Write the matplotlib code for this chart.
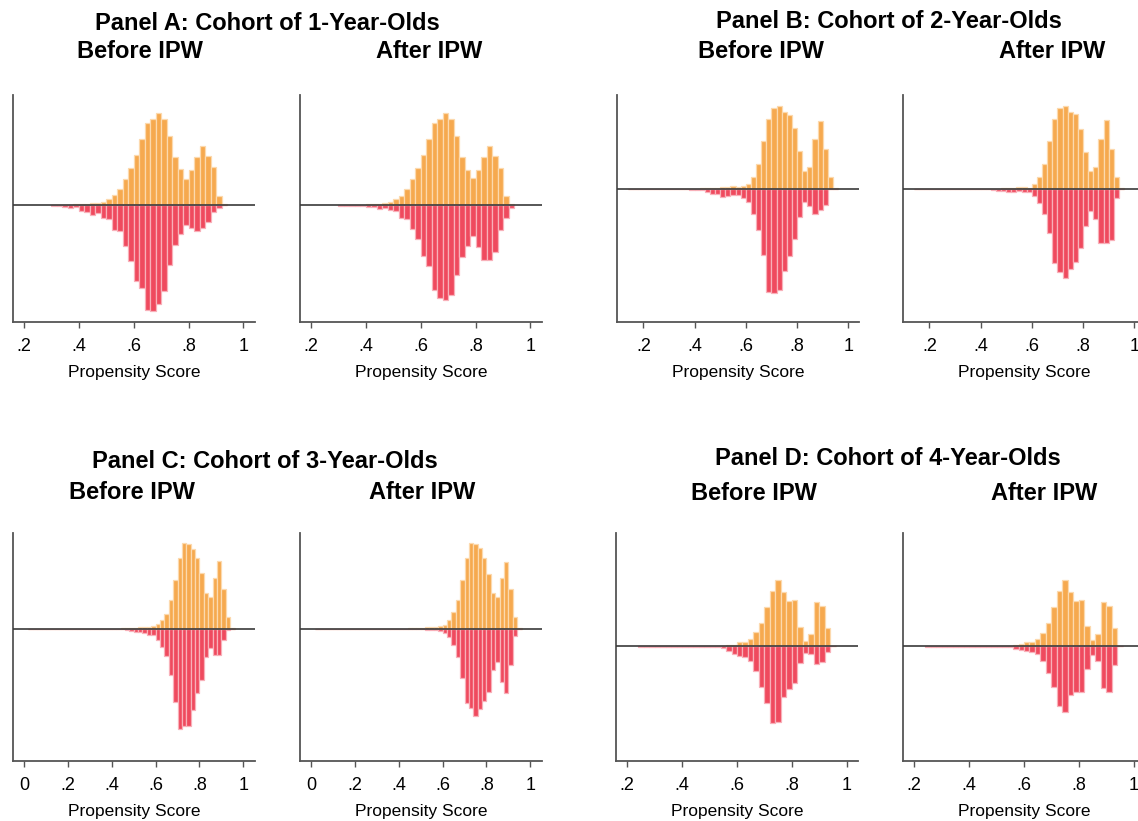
import numpy as np
import matplotlib
matplotlib.use("Agg")
import matplotlib.pyplot as plt

plt.rcParams['font.family'] = ['Liberation Sans', 'DejaVu Sans']

# ---------------- data (bin width 0.02, bar heights in relative density units) -------------
BIN_WIDTH = 0.02

# Panel A: cohort of 1-year-olds  (first bin centre 0.31)
A_START = 0.31
A_BEFORE_TREATED = [1, 1, 2, 2, 3, 4, 4, 6, 7, 11, 19, 30, 50, 78, 112, 150, 199, 246, 260, 276,
                    258, 208, 144, 108, 80, 106, 146, 178, 148, 114, 29, 5]
A_BEFORE_CONTROL = [1, 2, 6, 9, 5, 16, 18, 27, 22, 36, 41, 74, 76, 121, 165, 227, 246, 314, 316, 295,
                    256, 179, 119, 86, 57, 67, 77, 66, 49, 19, 9, 0]
A_AFTER_TREATED = [1, 1, 1, 1, 1, 3, 3, 5, 7, 11, 18, 29, 49, 78, 111, 150, 199, 246, 259, 276,
                   258, 208, 145, 107, 82, 105, 145, 178, 148, 113, 29, 5]
A_AFTER_CONTROL = [1, 1, 2, 1, 2, 5, 5, 10, 7, 14, 17, 37, 41, 71, 101, 151, 180, 253, 276, 282,
                   269, 207, 153, 122, 91, 123, 164, 162, 138, 73, 37, 7]

# Panel B: cohort of 2-year-olds  (first bin centre 0.15)
B_START = 0.15
B_BEFORE_TREATED = [1, 1, 0, 0, 0, 0, 0, 0, 0, 0, 1, 1, 1, 1, 2, 3, 3, 4, 5, 6, 9, 7, 10, 16, 36, 75,
                    143, 210, 243, 250, 232, 223, 182, 113, 54, 67, 151, 205, 121, 36, 2]
B_BEFORE_CONTROL = [1, 0, 0, 0, 0, 0, 0, 0, 0, 0, 1, 1, 2, 4, 4, 10, 15, 16, 23, 20, 18, 18, 28, 38, 75, 123,
                    196, 308, 311, 303, 245, 200, 148, 83, 40, 50, 73, 61, 49, 0, 0]
B_AFTER_TREATED = [1, 1, 0, 0, 0, 0, 0, 0, 0, 0, 1, 1, 1, 1, 1, 1, 1, 2, 3, 4, 6, 7, 4, 14, 36, 75,
                   143, 210, 242, 250, 232, 224, 181, 112, 54, 66, 151, 206, 121, 36, 2]
B_AFTER_CONTROL = [1, 0, 0, 0, 0, 0, 0, 0, 0, 0, 1, 1, 1, 1, 1, 3, 6, 6, 8, 8, 6, 8, 9, 20, 43, 73,
                   130, 222, 247, 265, 238, 218, 176, 111, 64, 89, 160, 160, 153, 26, 0]

# Panel C: cohort of 3-year-olds  (first bin centre 0.03)
C_START = 0.03
C_BEFORE_TREATED = [0, 0] + [0] * 19 + [2, 2, 2, 3, 5, 5, 6, 9, 13, 26, 45, 86, 144, 211, 256, 254, 239,
                                        211, 165, 108, 96, 151, 201, 119, 35, 3]
C_BEFORE_CONTROL = [1, 1] + [0] * 19 + [0, 3, 7, 11, 11, 14, 18, 19, 34, 54, 83, 140, 220, 299, 292, 291,
                                        242, 192, 154, 84, 58, 79, 80, 35, 5, 0]
C_AFTER_TREATED = [0, 0] + [0] * 19 + [2, 2, 3, 3, 4, 5, 6, 9, 12, 25, 49, 86, 144, 210, 256, 254, 240,
                                       211, 164, 108, 96, 151, 200, 118, 35, 3]
C_AFTER_CONTROL = [1, 1] + [0] * 19 + [1, 1, 1, 2, 3, 4, 5, 6, 14, 26, 48, 84, 147, 222, 236, 261, 240,
                                       217, 191, 124, 99, 159, 194, 110, 21, 0]

# Panel D: cohort of 4-year-olds  (first bin centre 0.25)
D_START = 0.25
D_BEFORE_TREATED = [2, 1, 2, 1, 2, 1, 1, 2, 1, 1, 2, 1, 1, 1, 1, 2, 3, 5, 12, 13, 22, 42, 70, 119, 166,
                    197, 162, 136, 138, 59, 17, 36, 133, 121, 55, 2]
D_BEFORE_CONTROL = [1, 2, 1, 2, 1, 2, 1, 1, 2, 1, 1, 2, 1, 1, 2, 6, 15, 23, 28, 32, 43, 73, 123, 171, 228,
                    225, 152, 127, 111, 49, 19, 23, 53, 47, 16, 0]
D_AFTER_TREATED = [2, 1, 2, 1, 2, 1, 1, 2, 1, 1, 2, 1, 1, 1, 1, 2, 3, 6, 12, 13, 23, 40, 71, 119, 166,
                   198, 162, 135, 138, 60, 18, 37, 133, 122, 56, 2]
D_AFTER_CONTROL = [1, 2, 1, 2, 1, 2, 1, 1, 2, 1, 1, 2, 1, 1, 1, 2, 7, 10, 13, 17, 23, 43, 79, 121, 178,
                   195, 145, 138, 136, 67, 27, 43, 124, 137, 56, 0]

PANEL_TITLES = ["Panel A: Cohort of 1-Year-Olds", "Panel B: Cohort of 2-Year-Olds",
                "Panel C: Cohort of 3-Year-Olds", "Panel D: Cohort of 4-Year-Olds"]
SUB_TITLES = ["Before IPW", "After IPW"]
X_LABEL = "Propensity Score"
TICKS_AB_D = [0.2, 0.4, 0.6, 0.8, 1.0]
TICKLABELS_AB_D = [".2", ".4", ".6", ".8", "1"]
TICKS_C = [0.0, 0.2, 0.4, 0.6, 0.8, 1.0]
TICKLABELS_C = ["0", ".2", ".4", ".6", ".8", "1"]

# ---------------- styling ----------------
ORANGE = "#F6A94F"
ORANGE_EDGE = "#FCD9AE"
RED = "#EF4A5E"
RED_EDGE = "#F8B0B9"
SPINE = "#555555"

W, H = 1138, 821
fig = plt.figure(figsize=(W / 100, H / 100), dpi=100)


def px_axes(left, top, right, bottom):
    return fig.add_axes([left / W, 1 - bottom / H, (right - left) / W, (bottom - top) / H])


panels = [
    dict(start=A_START, data=[(A_BEFORE_TREATED, A_BEFORE_CONTROL), (A_AFTER_TREATED, A_AFTER_CONTROL)],
         xlim=(0.16, 1.042), ylim=(-349, 331), ticks=TICKS_AB_D, labels=TICKLABELS_AB_D,
         lefts=[13, 300], top=95, bottom=322),
    dict(start=B_START, data=[(B_BEFORE_TREATED, B_BEFORE_CONTROL), (B_AFTER_TREATED, B_AFTER_CONTROL)],
         xlim=(0.097, 1.042), ylim=(-398, 282), ticks=TICKS_AB_D, labels=TICKLABELS_AB_D,
         lefts=[617, 903], top=95, bottom=322),
    dict(start=C_START, data=[(C_BEFORE_TREATED, C_BEFORE_CONTROL), (C_AFTER_TREATED, C_AFTER_CONTROL)],
         xlim=(-0.05, 1.053), ylim=(-396, 286), ticks=TICKS_C, labels=TICKLABELS_C,
         lefts=[13, 300], top=533, bottom=761),
    dict(start=D_START, data=[(D_BEFORE_TREATED, D_BEFORE_CONTROL), (D_AFTER_TREATED, D_AFTER_CONTROL)],
         xlim=(0.159, 1.041), ylim=(-343, 339), ticks=TICKS_AB_D, labels=TICKLABELS_AB_D,
         lefts=[616, 903], top=533, bottom=761),
]

for p in panels:
    for (treated, control), left in zip(p["data"], p["lefts"]):
        ax = px_axes(left, p["top"], left + 242, p["bottom"])
        n = len(treated)
        centers = p["start"] + BIN_WIDTH * np.arange(n)
        t = np.asarray(treated, float)
        c = np.asarray(control, float)
        ax.bar(centers, t, width=BIN_WIDTH, color=ORANGE, edgecolor=ORANGE_EDGE, linewidth=0.9, zorder=2)
        ax.bar(centers, -c, width=BIN_WIDTH, color=RED, edgecolor=RED_EDGE, linewidth=0.9, zorder=2)
        ax.axhline(0, color="#3a3a3a", linewidth=1.2, zorder=3)
        ax.set_xlim(*p["xlim"])
        ax.set_ylim(*p["ylim"])
        ax.set_xticks(p["ticks"])
        ax.set_xticklabels(p["labels"])
        ax.set_yticks([])
        for s in ["top", "right"]:
            ax.spines[s].set_visible(False)
        for s in ["left", "bottom"]:
            ax.spines[s].set_color(SPINE)
            ax.spines[s].set_linewidth(1.3)
        ax.tick_params(axis="x", direction="out", length=4.5, width=1.0, color=SPINE,
                       labelsize=13, pad=7)
        ax.set_xlabel(X_LABEL, fontsize=12.5, labelpad=7)
        ax.set_facecolor("white")

# titles (pixel positions)
TITLE_POS = [(267, 23), (889, 21), (265, 461), (888, 458)]
SUB_POS = [[(140, 51), (429, 51)], [(761, 51), (1052, 52)],
           [(132, 492), (422, 492)], [(754, 493), (1044, 493)]]
for title, (tx, ty), subs in zip(PANEL_TITLES, TITLE_POS, SUB_POS):
    fig.text(tx / W, 1 - ty / H, title, ha="center", va="center", fontsize=17, fontweight="bold")
    for s, (sx, sy) in zip(SUB_TITLES, subs):
        fig.text(sx / W, 1 - sy / H, s, ha="center", va="center", fontsize=17, fontweight="bold")

fig.savefig("out.png", dpi=100, facecolor="white")
